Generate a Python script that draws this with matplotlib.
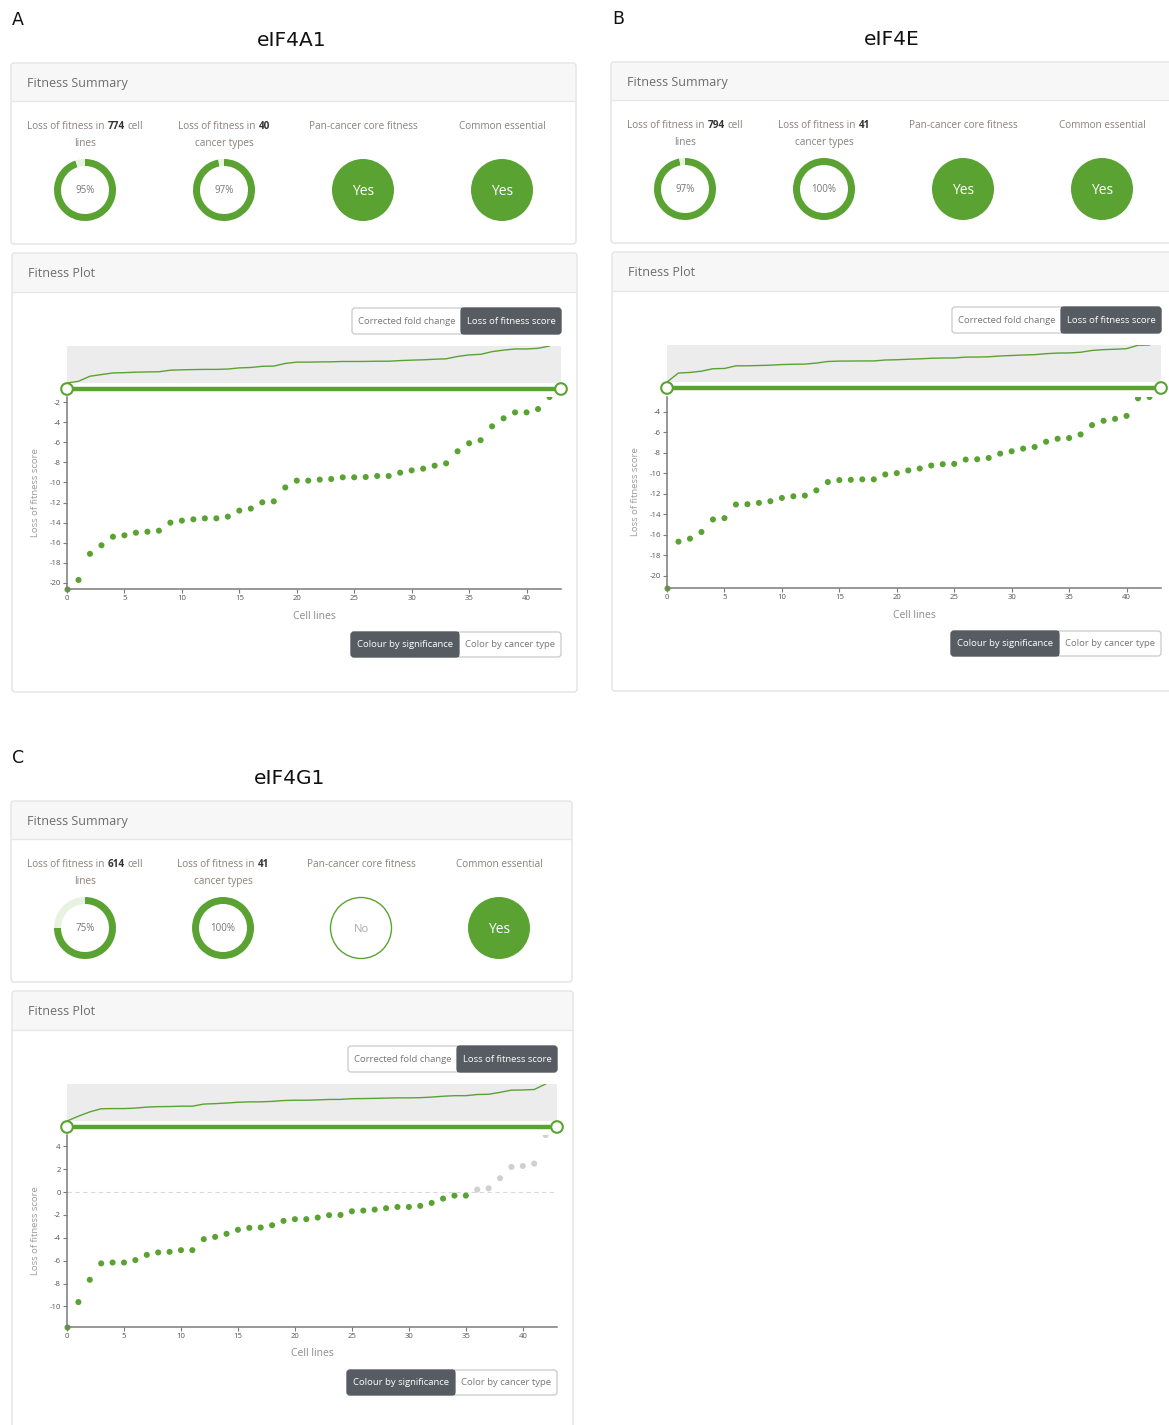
import matplotlib
matplotlib.use('Agg')
import matplotlib.pyplot as plt
from matplotlib.patches import Rectangle, FancyBboxPatch, Wedge, Circle
import numpy as np

# --- data ---
panel_letters = ['A', 'B', 'C']
genes = ['eIF4A1', 'eIF4E', 'eIF4G1']
lof_cell_lines = [774, 794, 614]
lof_cancer_types = [40, 41, 41]
pct_cell_lines = [95, 97, 75]
pct_cancer_types = [97, 100, 100]
pan_cancer_core = ['Yes', 'Yes', 'No']
common_essential = ['Yes', 'Yes', 'Yes']

# loss of fitness score per cell line (sorted), one list per gene
lof_eif4a1 = [-20.6, -19.7, -17.1, -16.25, -15.4, -15.26, -15.0, -14.9, -14.8, -14.0,
              -13.8, -13.67, -13.57, -13.57, -13.4, -12.8, -12.6, -11.98, -11.88, -10.5,
              -9.82, -9.82, -9.72, -9.66, -9.49, -9.49, -9.46, -9.36, -9.36, -9.03,
              -8.8, -8.63, -8.33, -8.1, -6.9, -6.1, -5.8, -4.42, -3.62, -3.03,
              -3.03, -2.7, -1.5]
lof_eif4e = [-21.2, -16.68, -16.39, -15.74, -14.52, -14.39, -13.06, -13.03, -12.9, -12.74,
             -12.42, -12.26, -12.19, -11.68, -10.87, -10.68, -10.65, -10.61, -10.61, -10.13,
             -10.0, -9.74, -9.55, -9.26, -9.13, -9.1, -8.68, -8.65, -8.52, -8.1,
             -7.87, -7.61, -7.45, -6.94, -6.65, -6.58, -6.23, -5.32, -4.9, -4.71,
             -4.42, -2.71, -2.58]
lof_eif4g1 = [-11.8, -9.62, -7.67, -6.24, -6.16, -6.16, -5.95, -5.49, -5.28, -5.23,
              -5.08, -5.08, -4.12, -3.92, -3.65, -3.3, -3.13, -3.1, -2.9, -2.52,
              -2.37, -2.37, -2.23, -2.02, -2.0, -1.68, -1.62, -1.53, -1.41, -1.3,
              -1.3, -1.21, -0.95, -0.57, -0.31, -0.31, 0.22, 0.33, 1.21, 2.2,
              2.28, 2.49, 4.99]
scores = [lof_eif4a1, lof_eif4e, lof_eif4g1]

# --- style ---
W, H = 1169, 1425
plt.rcParams['font.family'] = ['Open Sans', 'DejaVu Sans']
plt.rcParams['axes.unicode_minus'] = False

GREEN = '#5aa332'
LIGHT_GREEN = '#e8f2e1'
DARK_BTN = '#575c62'
TXT = '#8a817c'

fig = plt.figure(figsize=(W / 100, H / 100), dpi=100)
bg = fig.add_axes([0, 0, 1, 1], zorder=0)
bg.set_xlim(0, W)
bg.set_ylim(H, 0)
bg.axis('off')
fg = fig.add_axes([0, 0, 1, 1], zorder=5)
fg.set_xlim(0, W)
fg.set_ylim(H, 0)
fg.axis('off')
fg.patch.set_alpha(0)
renderer = fig.canvas.get_renderer()


def px_axes(x0, y0, x1, y1, z=2):
    return fig.add_axes([x0 / W, 1 - y1 / H, (x1 - x0) / W, (y1 - y0) / H], zorder=z)


def card(x0, y0, x1, y1, yh, title):
    bg.add_patch(FancyBboxPatch((x0, y0), x1 - x0, y1 - y0,
                                boxstyle='round,pad=0,rounding_size=3',
                                fc='white', ec='#e0e0e0', lw=0.9))
    bg.add_patch(Rectangle((x0 + 0.7, y0 + 0.7), x1 - x0 - 1.4, yh - y0 - 0.7,
                           fc='#f7f7f7', ec='none'))
    bg.plot([x0 + 0.7, x1 - 0.7], [yh, yh], color='#e6e6e6', lw=0.9)
    bg.text(x0 + 16, (y0 + yh) / 2 + 1, title, fontsize=9, color='#6d6d6d',
            va='center', ha='left')


def mixed_line(cx, y, parts, size=7.2):
    texts = []
    for s, bold in parts:
        t = bg.text(0, y, s, fontsize=size, va='center', ha='left',
                    color='#333333' if bold else TXT,
                    fontweight='bold' if bold else 'normal')
        texts.append(t)
    gap = 3.0
    widths = [t.get_window_extent(renderer).width for t in texts]
    total = sum(widths) + gap * (len(texts) - 1)
    x = cx - total / 2
    for t, w in zip(texts, widths):
        t.set_x(x)
        x += w + gap


def donut(cx, cy, pct, r=31, w=7):
    a = -90 + pct * 3.6
    bg.add_patch(Wedge((cx, cy), r, -90, a, width=w, fc=GREEN, ec='none'))
    if pct < 100:
        bg.add_patch(Wedge((cx, cy), r, a, 270, width=w, fc=LIGHT_GREEN, ec='none'))
    bg.text(cx, cy, f'{pct}%', fontsize=7, color='#777777', ha='center', va='center')


def yes_no(cx, cy, answer, r=31):
    if answer == 'Yes':
        bg.add_patch(Circle((cx, cy), r, fc=GREEN, ec='none'))
        bg.text(cx, cy + 1, 'Yes', fontsize=10, color='white', ha='center', va='center')
    else:
        bg.add_patch(Circle((cx, cy), r - 0.5, fc='white', ec=GREEN, lw=1.0))
        bg.text(cx, cy + 1, 'No', fontsize=8, color='#aaaaaa', ha='center', va='center')


def button_group(x0, xs, x1, y0, y1, left, right, dark_right):
    bg.add_patch(FancyBboxPatch((x0, y0), x1 - x0, y1 - y0,
                                boxstyle='round,pad=0,rounding_size=3',
                                fc='white', ec='#c9c9c9', lw=0.9))
    if dark_right:
        bg.add_patch(FancyBboxPatch((xs, y0), x1 - xs, y1 - y0,
                                    boxstyle='round,pad=0,rounding_size=3',
                                    fc=DARK_BTN, ec=DARK_BTN, lw=0.9))
        bg.add_patch(Rectangle((xs, y0), 6, y1 - y0, fc=DARK_BTN, ec='none'))
    else:
        bg.add_patch(FancyBboxPatch((x0, y0), xs - x0, y1 - y0,
                                    boxstyle='round,pad=0,rounding_size=3',
                                    fc=DARK_BTN, ec=DARK_BTN, lw=0.9))
        bg.add_patch(Rectangle((xs - 6, y0), 6, y1 - y0, fc=DARK_BTN, ec='none'))
    ym = (y0 + y1) / 2
    bg.text((x0 + xs) / 2, ym, left, fontsize=6.8, ha='center', va='center',
            color='#777777' if dark_right else 'white')
    bg.text((xs + x1) / 2, ym, right, fontsize=6.8, ha='center', va='center',
            color='white' if dark_right else '#777777')


# panel origins (offsets in pixels) and right-edge trim
origins = [(0, 0), (600, -1), (0, 738)]
trims = [0, 0, 4]

for i in range(3):
    ox, oy = origins[i]
    dr = trims[i]
    vals = np.array(scores[i])
    xs = np.arange(len(vals))

    bg.text(12 + ox, 20 + oy, panel_letters[i], fontsize=12.5, family='DejaVu Sans',
            ha='left', va='center', color='#111111')
    bg.text(292 + ox - dr / 2, 40 + oy, genes[i], fontsize=14.5, family='DejaVu Sans',
            ha='center', va='center', color='#111111')

    # fitness summary card
    card(11 + ox, 63 + oy, 576 + ox - dr, 244 + oy, 101 + oy, 'Fitness Summary')
    cols = [85 + ox + (139 - dr / 4) * k for k in range(4)]
    y1, y2, yc = 126 + oy, 143 + oy, 190 + oy
    mixed_line(cols[0], y1, [('Loss of fitness in', False), (str(lof_cell_lines[i]), True), ('cell', False)])
    mixed_line(cols[0], y2, [('lines', False)])
    mixed_line(cols[1], y1, [('Loss of fitness in', False), (str(lof_cancer_types[i]), True)])
    mixed_line(cols[1], y2, [('cancer types', False)])
    mixed_line(cols[2], y1, [('Pan-cancer core fitness', False)])
    mixed_line(cols[3], y1, [('Common essential', False)])
    donut(cols[0], yc, pct_cell_lines[i])
    donut(cols[1], yc, pct_cancer_types[i])
    yes_no(cols[2], yc, pan_cancer_core[i])
    yes_no(cols[3], yc, common_essential[i])

    # fitness plot card
    card(12 + ox, 253 + oy, 577 + ox - dr, 692 + oy, 292 + oy, 'Fitness Plot')
    button_group(352 + ox - dr, 461 + ox - dr, 561 + ox - dr, 308 + oy, 334 + oy,
                 'Corrected fold change', 'Loss of fitness score', True)
    button_group(351 + ox - dr, 459 + ox - dr, 561 + ox - dr, 632 + oy, 657 + oy,
                 'Colour by significance', 'Color by cancer type', False)

    # overview strip
    axm = px_axes(67 + ox, 346 + oy, 561 + ox - dr, 383 + oy)
    axm.set_facecolor('#ececec')
    axm.plot(xs, vals, color=GREEN, lw=1.0)
    axm.set_xlim(0, 43)
    axm.set_ylim(vals.min(), vals.max())
    axm.set_xticks([])
    axm.set_yticks([])
    for s in axm.spines.values():
        s.set_visible(False)

    # brush slider
    fg.plot([67 + ox, 561 + ox - dr], [389 + oy, 389 + oy], color=GREEN, lw=3.2,
            solid_capstyle='butt')
    for hx in (67 + ox, 561 + ox - dr):
        fg.add_patch(Circle((hx, 389 + oy), 5.8, fc='white', ec=GREEN, lw=1.5, zorder=4))

    # main scatter
    top = 397 if i != 1 else 398
    ax = px_axes(67 + ox, top + oy, 561 + ox - dr, 589 + oy)
    ax.patch.set_alpha(0)
    colors = np.where(vals <= 0, GREEN, '#d0d0d0')
    ax.scatter(xs[1:], vals[1:], s=19, c=colors[1:], linewidths=0, zorder=3)
    ax.scatter(xs[:1], vals[:1], s=19, c=colors[:1], linewidths=0, zorder=1, clip_on=False)
    ax.set_xlim(0, 43)
    ax.set_ylim(vals.min(), vals.max())
    if vals.min() < 0 < vals.max():
        ax.axhline(0, color='#d9d9d9', lw=0.8, ls=(0, (4, 3)), zorder=0)
    ax.set_xticks(range(0, 41, 5))
    lo = int(np.ceil(vals.min() / 2) * 2)
    hi = int(np.floor(vals.max() / 2) * 2)
    ax.set_yticks(range(lo, hi + 1, 2))
    for s in ('top', 'right'):
        ax.spines[s].set_visible(False)
    for s in ('left', 'bottom'):
        ax.spines[s].set_color('#7a7a7a')
        ax.spines[s].set_linewidth(1.1)
    ax.tick_params(length=3, width=0.8, color='#7a7a7a', labelsize=5.6,
                   labelcolor='#555555', pad=1.5)
    bg.text(36 + ox, 493 + oy, 'Loss of fitness score', rotation=90, fontsize=6.8,
            color='#9a9a9a', ha='center', va='center')
    bg.text(314 + ox - dr / 2, 616 + oy, 'Cell lines', fontsize=7.5, color='#8a8a8a',
            ha='center', va='center')

fig.savefig('out.png', dpi=100, facecolor='white')
